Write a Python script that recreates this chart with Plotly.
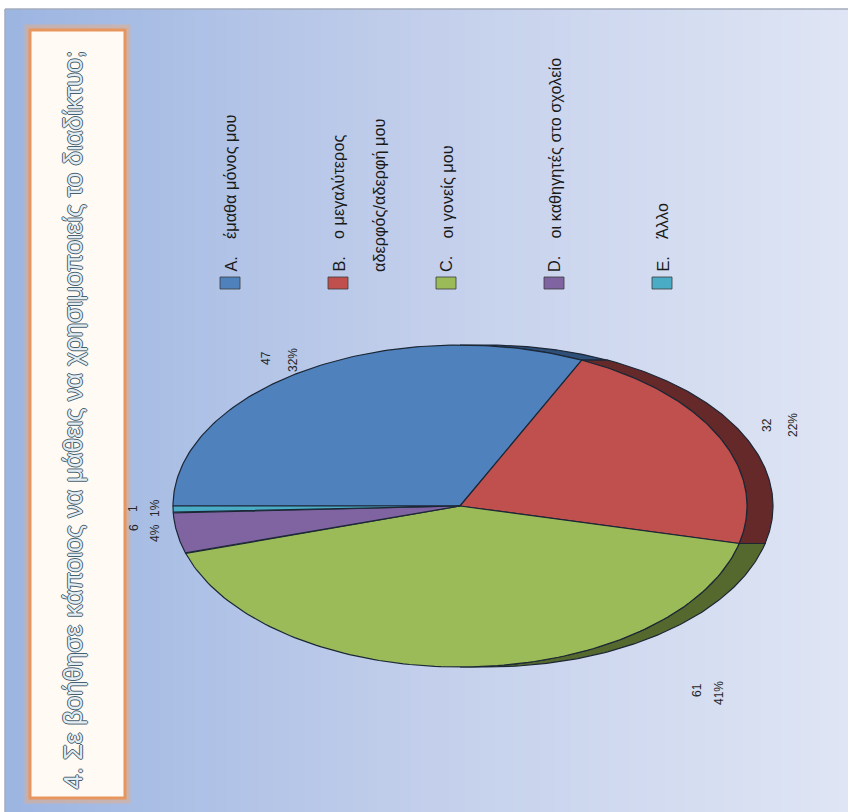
import numpy as np
import plotly.graph_objects as go

# ---- data ----
categories = ["A.", "B.", "C.", "D.", "E."]
answers = ["έμαθα μόνος μου",
           "ο μεγαλύτερος",
           "οι γονείς μου",
           "οι καθηγητές στο σχολείο",
           "Άλλο"]
answer_second_line = ["", "αδερφός/αδερφή μου", "", "", ""]
counts = [47, 32, 61, 6, 1]
title_text = "4. Σε βοήθησε κάποιος να μάθεις να χρησιμοποιείς το διαδίκτυο;"

# ---- styling ----
W, H = 848, 812
top_colors = ["#4f81bd", "#c0504d", "#9bbb59", "#8064a2", "#4bacc6"]
side_colors = ["#2e4f78", "#66292a", "#55692e", "#4a3a63", "#2b6d80"]
edge_color = "#1c2736"
FONT = "Liberation Sans, Arial, sans-serif"

# pie geometry (pixel space, y grows downward); depth points to the right
CX, CY, RX, RY, DEPTH = 460, 506, 287, 161, 26
START_DEG = 180.0

total = sum(counts)
frac = np.array(counts) / total
cum = np.concatenate([[0], np.cumsum(frac)])
angles = START_DEG - 360.0 * cum  # clockwise on screen


def ellipse_pts(t0, t1, dx=0.0, n=120):
    t = np.radians(np.linspace(t0, t1, n))
    return CX + dx + RX * np.cos(t), CY - RY * np.sin(t)


fig = go.Figure()

# background gradient
fig.add_trace(go.Heatmap(
    x=[0, 1], y=[0, 1], z=[[0, 1], [0, 1]], zsmooth="best",
    colorscale=[[0, "#9cb5e1"], [0.5, "#c3cfeb"], [1, "#dfe5f4"]],
    showscale=False, hoverinfo="skip", xaxis="x", yaxis="y"))

# side wall of the 3-D pie (visible on the right half only)
for i in range(len(counts)):
    hi, lo = angles[i], angles[i + 1]
    a, b = min(hi, 90.0), max(lo, -90.0)
    if a <= b:
        continue
    x1, y1 = ellipse_pts(a, b)
    x2, y2 = ellipse_pts(b, a, dx=DEPTH)
    fig.add_trace(go.Scatter(
        x=np.concatenate([x1, x2, x1[:1]]), y=np.concatenate([y1, y2, y1[:1]]),
        mode="lines", fill="toself", fillcolor=side_colors[i],
        line=dict(color=edge_color, width=1.2), hoverinfo="skip",
        showlegend=False, xaxis="x2", yaxis="y2"))

# top faces
for i in range(len(counts)):
    xs, ys = ellipse_pts(angles[i], angles[i + 1])
    fig.add_trace(go.Scatter(
        x=np.concatenate([[CX], xs, [CX]]), y=np.concatenate([[CY], ys, [CY]]),
        mode="lines", fill="toself", fillcolor=top_colors[i],
        line=dict(color=edge_color, width=1.2), hoverinfo="skip",
        showlegend=False, xaxis="x2", yaxis="y2"))

shapes = []
annotations = []

# title box
shapes.append(dict(type="rect", xref="x2", yref="y2", x0=28, x1=127, y0=28, y1=800,
                   line=dict(color="rgba(240,170,120,0.45)", width=7),
                   fillcolor="rgba(0,0,0,0)"))
shapes.append(dict(type="rect", xref="x2", yref="y2", x0=30, x1=125, y0=30, y1=798,
                   line=dict(color="#e8965e", width=3), fillcolor="#fffaf4"))
annotations.append(dict(
    x=73, y=420, xref="x2", yref="y2", text=title_text, showarrow=False,
    textangle=-90, xanchor="center", yanchor="middle",
    font=dict(family=FONT, size=26, color="#e4edf3",
              shadow="1px 0 0 #45606f, -1px 0 0 #45606f, 0 1px 0 #45606f, 0 -1px 0 #45606f")))

# frame lines
shapes.append(dict(type="line", xref="x2", yref="y2", x0=5, x1=W, y0=9, y1=9,
                   line=dict(color="#a3adbd", width=1.5)))
shapes.append(dict(type="line", xref="x2", yref="y2", x0=5, x1=5, y0=9, y1=H,
                   line=dict(color="#a3adbd", width=1.5)))

# legend
LEG_SIZE = 16.3
legend_x = [230, 338, 446, 554, 662]
second_line_x = 379
for i, cat in enumerate(categories):
    cx = legend_x[i]
    shapes.append(dict(type="rect", xref="x2", yref="y2", x0=cx - 10, x1=cx + 10,
                       y0=277, y1=289, fillcolor=top_colors[i],
                       line=dict(color="#3a3a3a", width=0.8)))
    annotations.append(dict(x=cx, y=274, xref="x2", yref="y2", text=cat,
                            showarrow=False, textangle=-90, xanchor="center",
                            yanchor="bottom",
                            font=dict(family=FONT, size=LEG_SIZE, color="#1a1a1a")))
    annotations.append(dict(x=cx, y=241, xref="x2", yref="y2", text=answers[i],
                            showarrow=False, textangle=-90, xanchor="center",
                            yanchor="bottom",
                            font=dict(family=FONT, size=LEG_SIZE, color="#1a1a1a")))
    if answer_second_line[i]:
        annotations.append(dict(x=second_line_x, y=274, xref="x2", yref="y2",
                                text=answer_second_line[i], showarrow=False, textangle=-90,
                                xanchor="center", yanchor="bottom",
                                font=dict(family=FONT, size=LEG_SIZE, color="#1a1a1a")))

# data labels: value and percentage
value_pos = [(266, 358), (767, 425), (697, 690), (134, 528), (133, 509)]
pct_pos = [(293, 360), (793, 425), (719, 693), (155, 533), (155, 508)]
for i, v in enumerate(counts):
    pct = f"{round(v / total * 100)}%"
    for txt, (px, py) in ((str(v), value_pos[i]), (pct, pct_pos[i])):
        annotations.append(dict(x=px, y=py, xref="x2", yref="y2", text=txt,
                                showarrow=False, textangle=-90, xanchor="center",
                                yanchor="middle",
                                font=dict(family=FONT, size=12, color="#262626")))

fig.update_layout(
    width=W, height=H, autosize=False,
    margin=dict(l=0, r=0, t=0, b=0),
    paper_bgcolor="white", plot_bgcolor="rgba(0,0,0,0)",
    showlegend=False,
    xaxis=dict(domain=[5 / W, 1], range=[0, 1], visible=False, fixedrange=True),
    yaxis=dict(domain=[0, 1 - 9 / H], range=[0, 1], visible=False, fixedrange=True),
    xaxis2=dict(domain=[0, 1], range=[0, W], visible=False, fixedrange=True, anchor="y2"),
    yaxis2=dict(domain=[0, 1], range=[H, 0], visible=False, fixedrange=True, anchor="x2"),
    shapes=shapes, annotations=annotations,
)

fig.write_html("out.html", config={"displayModeBar": False})
